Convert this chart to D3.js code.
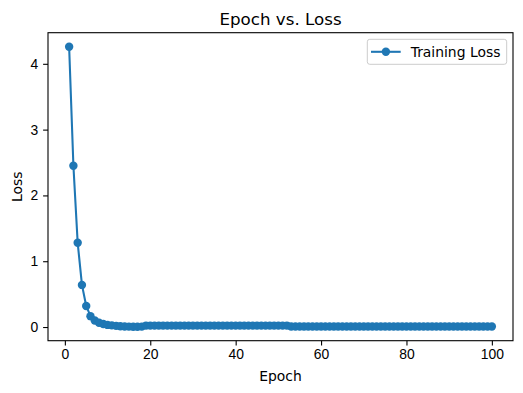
<!DOCTYPE html>
<html>
<head>
<meta charset="utf-8">
<script src="https://cdn.jsdelivr.net/npm/d3@7"></script>
<style>
    body { margin: 0; background: #fff; }
    svg { display: block; font-family: 'DejaVu Sans', sans-serif; }
    .tick text { font-size: 13.9px; fill: #000; }
    .tick line, .domain { stroke: #000; }
</style>
</head>
<body>
<script>
const title = 'Epoch vs. Loss';
const xTitle = 'Epoch';
const yTitle = 'Loss';
const seriesName = 'Training Loss';

// epochs 1..100
const epochs = d3.range(1, 101);

const losses = [
    4.26, 2.45, 1.28, 0.64, 0.32, 0.165, 0.10, 0.065, 0.045, 0.032,
    0.025, 0.018, 0.012, 0.008, 0.006, 0.005, 0.005, 0.006, 0.022, 0.022,
    0.022, 0.022, 0.022, 0.022, 0.022, 0.022, 0.022, 0.022, 0.022, 0.022,
    0.022, 0.022, 0.022, 0.022, 0.022, 0.022, 0.022, 0.022, 0.022, 0.022,
    0.022, 0.022, 0.022, 0.022, 0.022, 0.022, 0.022, 0.022, 0.022, 0.022,
    0.022, 0.022, 0.008, 0.008, 0.008, 0.008, 0.008, 0.008, 0.008, 0.008,
    0.008, 0.008, 0.008, 0.008, 0.008, 0.008, 0.008, 0.008, 0.008, 0.008,
    0.008, 0.008, 0.008, 0.008, 0.008, 0.008, 0.008, 0.008, 0.008, 0.008,
    0.008, 0.008, 0.008, 0.008, 0.008, 0.008, 0.008, 0.008, 0.008, 0.008,
    0.008, 0.008, 0.008, 0.008, 0.008, 0.008, 0.008, 0.008, 0.008, 0.008
];

const xTicks = [0, 20, 40, 60, 80, 100];
const yTicks = [0, 1, 2, 3, 4];

const width = 523, height = 393;
const plot = { left: 48, right: 513, top: 32.7, bottom: 340.7 };
const color = '#1f77b4';

const data = epochs.map((e, i) => ({ epoch: e, loss: losses[i] }));

// matplotlib style 5% margins
const xPad = (d3.max(epochs) - d3.min(epochs)) * 0.05;
const yPad = (d3.max(losses) - d3.min(losses)) * 0.05;

const x = d3.scaleLinear()
    .domain([d3.min(epochs) - xPad, d3.max(epochs) + xPad])
    .range([plot.left, plot.right]);

const y = d3.scaleLinear()
    .domain([d3.min(losses) - yPad, d3.max(losses) + yPad])
    .range([plot.bottom, plot.top]);

let svg = d3.select('body')
    .append('svg')
    .attr('width', width)
    .attr('height', height);

svg.append('rect').attr('width', width).attr('height', height).attr('fill', '#fff');

// Axes
let xAxis = svg.append('g')
    .attr('transform', `translate(0, ${plot.bottom})`)
    .call(d3.axisBottom(x).tickValues(xTicks).tickFormat(d3.format('d'))
        .tickSize(4.9).tickPadding(3.5).tickSizeOuter(0));
xAxis.select('.domain').remove();
xAxis.selectAll('.tick line').attr('stroke-width', 1.1);
xAxis.selectAll('.tick text').attr('dy', '0.71em');

let yAxis = svg.append('g')
    .attr('transform', `translate(${plot.left}, 0)`)
    .call(d3.axisLeft(y).tickValues(yTicks).tickFormat(d3.format('d'))
        .tickSize(4.9).tickPadding(4.9).tickSizeOuter(0));
yAxis.select('.domain').remove();
yAxis.selectAll('.tick line').attr('stroke-width', 1.1);

// Frame
svg.append('rect')
    .attr('x', plot.left)
    .attr('y', plot.top)
    .attr('width', plot.right - plot.left)
    .attr('height', plot.bottom - plot.top)
    .attr('fill', 'none')
    .attr('stroke', '#000')
    .attr('stroke-width', 1.1);

// Line + markers
const line = d3.line().x(d => x(d.epoch)).y(d => y(d.loss));

svg.append('path')
    .datum(data)
    .attr('d', line)
    .attr('fill', 'none')
    .attr('stroke', color)
    .attr('stroke-width', 2.08)
    .attr('stroke-linejoin', 'round');

svg.append('g')
    .selectAll('circle')
    .data(data)
    .enter()
    .append('circle')
    .attr('cx', d => x(d.epoch))
    .attr('cy', d => y(d.loss))
    .attr('r', 4.2)
    .attr('fill', color);

// Titles
svg.append('text')
    .attr('x', (plot.left + plot.right) / 2)
    .attr('y', 24.5)
    .attr('text-anchor', 'middle')
    .style('font-size', '16.7px')
    .text(title);

svg.append('text')
    .attr('x', (plot.left + plot.right) / 2)
    .attr('y', 381)
    .attr('text-anchor', 'middle')
    .style('font-size', '13.9px')
    .text(xTitle);

svg.append('text')
    .attr('transform', `translate(21.5, ${(plot.top + plot.bottom) / 2}) rotate(-90)`)
    .attr('text-anchor', 'middle')
    .style('font-size', '13.9px')
    .text(yTitle);

// Legend
let legend = svg.append('g');
legend.append('rect')
    .attr('x', 367.3)
    .attr('y', 39.3)
    .attr('width', 139.4)
    .attr('height', 25)
    .attr('rx', 2.5)
    .attr('fill', '#fff')
    .attr('fill-opacity', 0.8)
    .attr('stroke', '#ccc')
    .attr('stroke-width', 1);
legend.append('line')
    .attr('x1', 371).attr('x2', 400.7)
    .attr('y1', 51.8).attr('y2', 51.8)
    .attr('stroke', color)
    .attr('stroke-width', 2.08);
legend.append('circle')
    .attr('cx', 385.9).attr('cy', 51.8).attr('r', 4.2)
    .attr('fill', color);
legend.append('text')
    .attr('x', 410.7)
    .attr('y', 51.8)
    .attr('dy', '0.35em')
    .style('font-size', '13.9px')
    .text(seriesName);
</script>
</body>
</html>
